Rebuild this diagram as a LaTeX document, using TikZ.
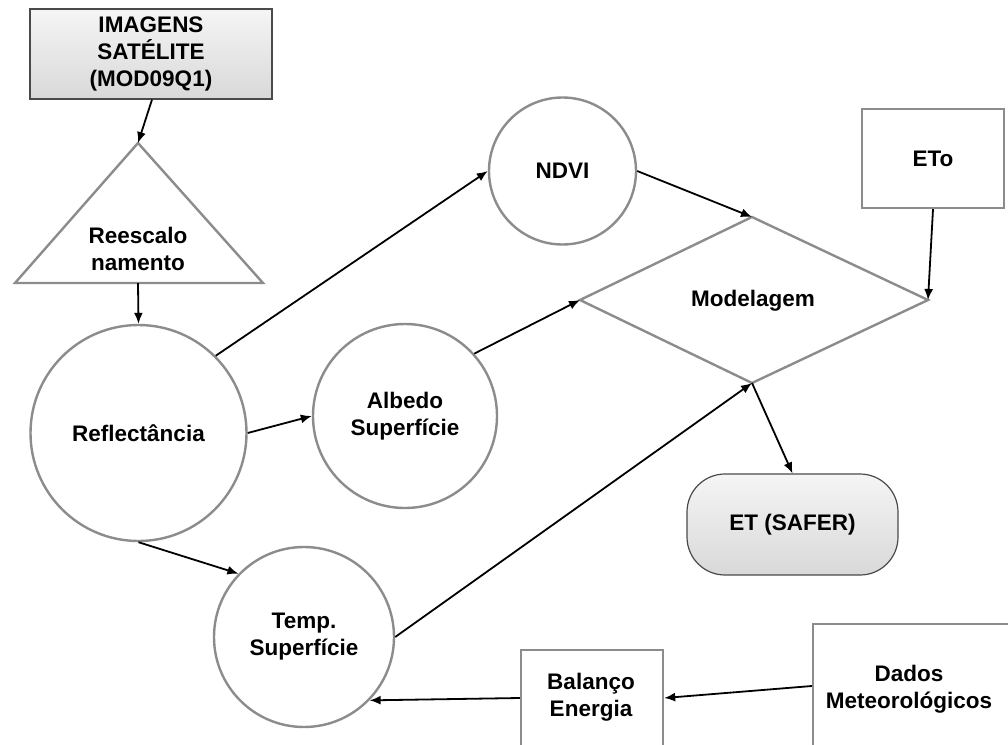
\documentclass[tikz,border=0pt]{standalone}
\usepackage{fontspec}
\setmainfont{Liberation Sans}
\usetikzlibrary{arrows.meta,calc}
\definecolor{outl}{HTML}{8C8C8C}
\definecolor{boxl}{HTML}{4A4A4A}
\begin{document}
\begin{tikzpicture}[x=1pt,y=-1pt,
  every node/.style={font=\bfseries\fontsize{22.5}{27}\selectfont, align=center, inner sep=0pt},
  circ/.style={circle, draw=outl, line width=2.4pt, fill=white},
  plainbox/.style={rectangle, draw=outl, line width=2.4pt, fill=white},
  shadebox/.style={rectangle, draw=boxl, line width=1.2pt, top color=gray!8, bottom color=gray!30},
  outshape/.style={draw=outl, line width=2.4pt, line join=miter},
  arr/.style={-{Latex[length=11pt,width=9pt]}, line width=1.8pt, black}]
\useasboundingbox (0,0) rectangle (1008,744);
\fill[white] (0,0) rectangle (1008,744);

% shapes
\node[shadebox, minimum width=242pt, minimum height=90pt] (img) at (151,54) {IMAGENS\\SATÉLITE\\(MOD09Q1)};

\coordinate (triTop) at (138,143);
\coordinate (triL) at (15,283);
\coordinate (triR) at (263,283);
\coordinate (triBot) at (138,283);
\draw[outshape] (triTop) -- (triR) -- (triL) -- cycle;
\node (tritext) at (138,249) {Reescalo\\namento};

\node[circ, minimum size=216pt] (refl) at (138.5,433) {Reflectância};
\node[circ, minimum size=184pt] (alb) at (405,416) {Albedo\\Superfície};
\node[circ, minimum size=147pt] (ndvi) at (562.5,171) {NDVI};
\node[circ, minimum size=180pt] (temp) at (304,637) {Temp.\\Superfície};

\coordinate (dl) at (580,300);
\coordinate (dt) at (752,217);
\coordinate (dr) at (928,300);
\coordinate (db) at (752,383);
\draw[outshape] (dl) -- (dt) -- (dr) -- (db) -- cycle;
\node (model) at (753,301) {Modelagem};

\node[plainbox, minimum width=142pt, minimum height=99pt] (eto) at (933,158.5) {ETo};
\node[shadebox, rounded corners=38pt, minimum width=211pt, minimum height=101pt] (et) at (792.5,524.5) {ET (SAFER)};
\node[plainbox, minimum width=142pt, minimum height=96pt] (bal) at (592,698) {};
\node (baltext) at (591,697) {Balanço\\Energia};
\node[plainbox, minimum width=204pt, minimum height=124pt] (dados) at (915,686) {};
\node (dadostext) at (909,689) {Dados\\Meteorológicos};

% connectors
\draw[arr] ($(img.south)+(1,0)$) -- (triTop);
\draw[arr] (triBot) -- (refl.north);
\draw[arr] (refl.45) -- (ndvi.west);
\draw[arr] (refl.east) -- (alb.west);
\draw[arr] (refl.south) -- (temp.136);
\draw[arr] (alb.42) -- (dl);
\draw[arr] (ndvi.east) -- (dt);
\draw[arr] (eto.south) -- (dr);
\draw[arr] (temp.east) -- (db);
\draw[arr] (db) -- (et.north);
\draw[arr] (dados.west) -- (bal.east);
\draw[arr] (bal.west) -- (temp.-44);
\end{tikzpicture}
\end{document}
